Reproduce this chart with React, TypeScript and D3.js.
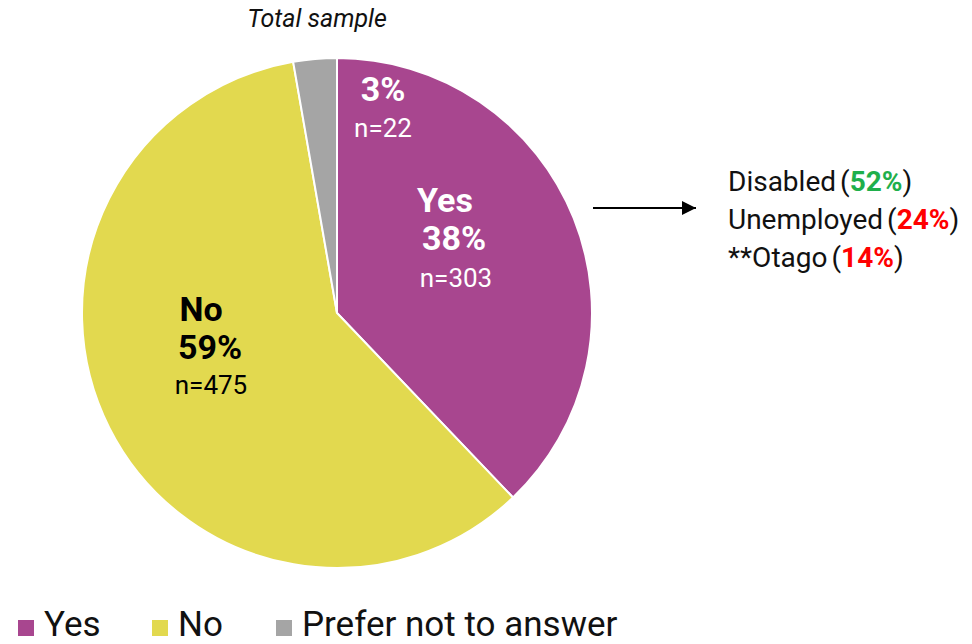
import React from "react";
import * as d3 from "d3";

// answer categories and counts
const categories = ["Yes", "No", "Prefer not to answer"];
const counts = [303, 475, 22];
const percents = ["38%", "59%", "3%"];
const colors = ["#A8468F", "#E2D94F", "#A5A5A5"];

// call-out list for the "Yes" group
const calloutLabels = ["Disabled", "Unemployed", "**Otago"];
const calloutValues = ["52%", "24%", "14%"];
const calloutColors = ["#1FAF4B", "#FF0000", "#FF0000"];

const width = 972;
const height = 644;
const cx = 337;
const cy = 313;
const radius = 255;
const font = "Roboto, 'Noto Sans', sans-serif";

const App = () => {
  const pie = d3
    .pie<number>()
    .sort(null)
    .value((d) => d);
  const arc = d3.arc<d3.PieArcDatum<number>>().innerRadius(0).outerRadius(radius);
  const arcs = pie(counts);

  return (
    <svg
      width={width}
      height={height}
      style={{ position: "absolute", left: 0, top: 0, fontFamily: font }}
    >
      <defs>
        <marker id="arrow" viewBox="0 0 10 10" refX="10" refY="5" markerWidth="14" markerHeight="14" markerUnits="userSpaceOnUse" orient="auto">
          <path d="M0,0 L10,5 L0,10 z" fill="#000" />
        </marker>
      </defs>

      <text x={317} y={27} textAnchor="middle" fontSize={25} fontStyle="italic" fill="#111">
        Total sample
      </text>

      <g transform={`translate(${cx},${cy})`}>
        {arcs.map((a, i) => (
          <path key={i} d={arc(a) || ""} fill={colors[i]} stroke="#fff" strokeWidth={2} />
        ))}
      </g>

      {/* slice labels */}
      <g textAnchor="middle">
        <text x={383} y={101} fontSize={34} fontWeight="bold" fill="#fff">{percents[2]}</text>
        <text x={383} y={137} fontSize={26} fill="#fff">n={counts[2]}</text>

        <text x={445} y={212} fontSize={34} fontWeight="bold" fill="#fff">{categories[0]}</text>
        <text x={454} y={250} fontSize={34} fontWeight="bold" fill="#fff">{percents[0]}</text>
        <text x={456} y={287} fontSize={26} fill="#fff">n={counts[0]}</text>

        <text x={201} y={321} fontSize={34} fontWeight="bold" fill="#000">{categories[1]}</text>
        <text x={210} y={359} fontSize={34} fontWeight="bold" fill="#000">{percents[1]}</text>
        <text x={211} y={394} fontSize={26} fill="#000">n={counts[1]}</text>
      </g>

      <line x1={593} y1={208} x2={696} y2={208} stroke="#000" strokeWidth={2} markerEnd="url(#arrow)" />

      {calloutLabels.map((l, i) => (
        <text key={l} x={728} y={191 + i * 38} fontSize={28} fill="#111">
          {l}
          <tspan dx={4}>(</tspan>
          <tspan fontWeight="bold" fill={calloutColors[i]}>{calloutValues[i]}</tspan>
          <tspan>)</tspan>
        </text>
      ))}

      {/* legend */}
      {categories.map((c, i) => {
        const xs = [18, 152, 276];
        return (
          <g key={c}>
            <rect x={xs[i]} y={620} width={16} height={16} fill={colors[i]} />
            <text x={xs[i] + 26} y={636} fontSize={35} fill="#111">{c}</text>
          </g>
        );
      })}
    </svg>
  );
};

export default App;
